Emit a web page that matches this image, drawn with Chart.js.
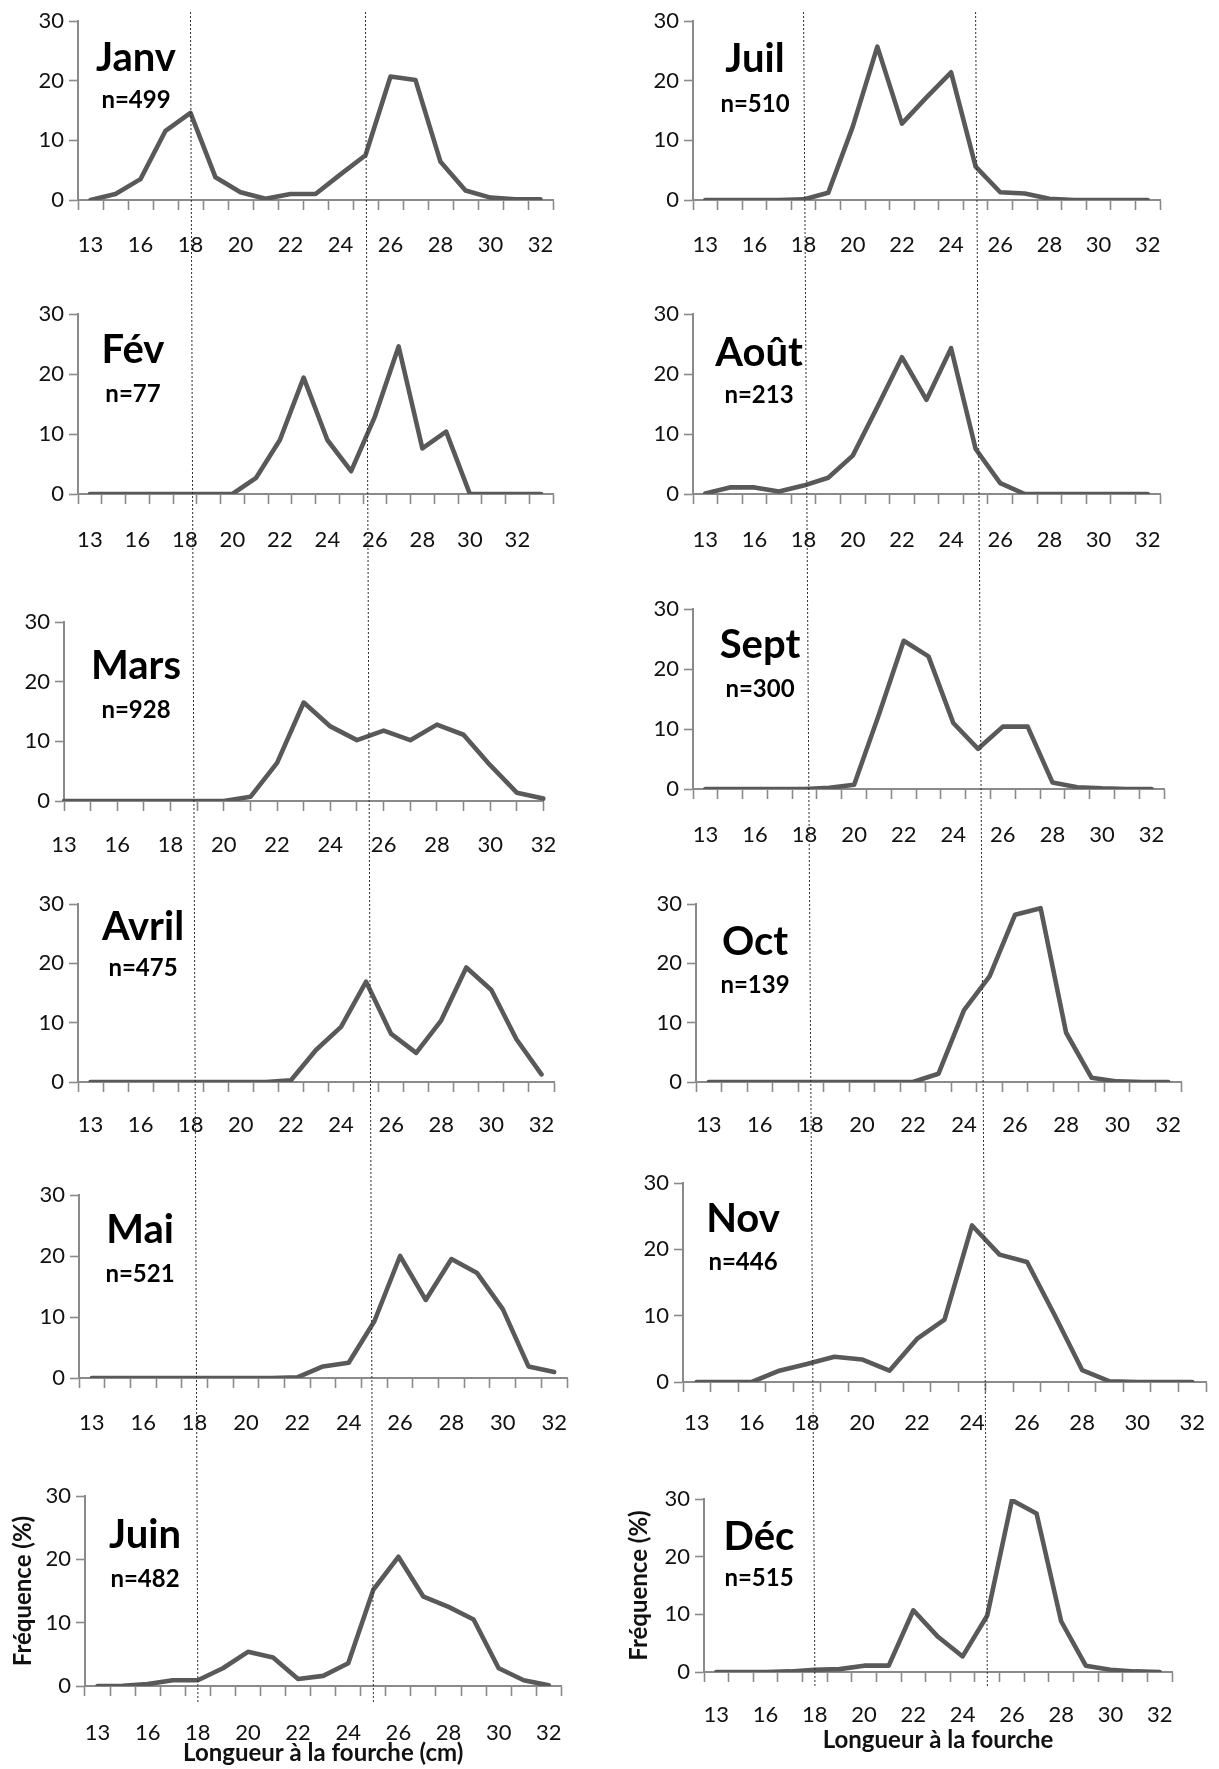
<!DOCTYPE html>
<html lang="fr">
<head>
<meta charset="utf-8">
<title>Longueur à la fourche par mois</title>
<script src="https://cdn.jsdelivr.net/npm/chart.js@4.4.1/dist/chart.umd.min.js"></script>
<style>
  html, body { margin: 0; padding: 0; background: #fff; }
  #page { position: relative; width: 1219px; height: 1769px; overflow: hidden; background: #fff; }
  #page canvas { position: absolute; }
  #guides { pointer-events: none; }
</style>
</head>
<body>
<div id="page"></div>
<script>
// Length classes (cm); the axis labels every other class, the first class gathers 13-14 cm
const lengthTicks = ['13', '', '16', '', '18', '', '20', '', '22', '', '24', '', '26', '', '28', '', '30', '', '32'];
// February's table carries one extra (unlabelled) class after 32 cm
const lengthTicksFeb = lengthTicks.concat(['']);

// Frequency (%) per length class
const freqJanv  = [0, 1.0, 3.5, 11.6, 14.6, 3.8, 1.3, 0.2, 1.0, 1.0, 4.3, 7.5, 20.7, 20.1, 6.4, 1.6, 0.4, 0.1, 0.1];
const freqFev   = [0, 0, 0, 0, 0, 0, 0, 2.7, 9.0, 19.4, 9.0, 3.8, 12.9, 24.6, 7.6, 10.4, 0, 0, 0, 0];
const freqMars  = [0, 0, 0, 0, 0, 0, 0, 0.7, 6.4, 16.5, 12.5, 10.2, 11.8, 10.2, 12.8, 11.1, 6.0, 1.4, 0.4];
const freqAvril = [0, 0, 0, 0, 0, 0, 0, 0, 0.3, 5.4, 9.3, 16.9, 8.1, 4.9, 10.4, 19.3, 15.5, 7.2, 1.3];
const freqMai   = [0, 0, 0, 0, 0, 0, 0, 0, 0.1, 1.9, 2.5, 9.3, 20.0, 12.8, 19.5, 17.2, 11.3, 1.9, 1.0];
const freqJuin  = [0, 0.05, 0.3, 0.9, 0.9, 2.8, 5.4, 4.5, 1.1, 1.6, 3.6, 15.2, 20.4, 14.1, 12.5, 10.5, 2.8, 0.9, 0.1];
const freqJuil  = [0, 0, 0, 0, 0.1, 1.2, 12.3, 25.7, 12.8, 17.2, 21.4, 5.6, 1.3, 1.1, 0.2, 0, 0, 0, 0];
const freqAout  = [0.1, 1.1, 1.1, 0.4, 1.4, 2.7, 6.4, 14.5, 22.8, 15.7, 24.3, 7.5, 1.8, 0, 0, 0, 0, 0, 0];
const freqSept  = [0, 0, 0, 0, 0, 0.2, 0.7, 12.4, 24.7, 22.1, 11.0, 6.7, 10.4, 10.4, 1.1, 0.3, 0.1, 0, 0];
const freqOct   = [0, 0, 0, 0, 0, 0, 0, 0, 0, 1.4, 12.1, 17.8, 28.2, 29.3, 8.3, 0.7, 0.1, 0, 0];
const freqNov   = [0, 0, 0, 1.7, 2.7, 3.8, 3.4, 1.7, 6.5, 9.4, 23.6, 19.2, 18.1, 10.1, 1.8, 0.1, 0, 0, 0];
const freqDec   = [0, 0, 0, 0.1, 0.4, 0.5, 1.1, 1.1, 10.7, 6.1, 2.7, 9.8, 29.8, 27.5, 8.8, 1.1, 0.4, 0.1, 0];

const monthNames  = ['Janv', 'Fév', 'Mars', 'Avril', 'Mai', 'Juin', 'Juil', 'Août', 'Sept', 'Oct', 'Nov', 'Déc'];
const sampleSizes = [499, 77, 928, 475, 521, 482, 510, 213, 300, 139, 446, 515];
const monthSeries = [freqJanv, freqFev, freqMars, freqAvril, freqMai, freqJuin,
                     freqJuil, freqAout, freqSept, freqOct, freqNov, freqDec];
const monthTicks  = monthNames.map((m, i) => i === 1 ? lengthTicksFeb : lengthTicks);

const yTicks = [0, 10, 20, 30];
const yTitleText = 'Fréquence (%)';
const xTitleLeft = 'Longueur à la fourche (cm)';
const xTitleRight = 'Longueur à la fourche';
const guideLengthsCm = [18, 25];

// Page layout: plot rectangle [left, top, right, bottom], tick-label centre line,
// and the month label anchor (centre x, title baseline, count baseline) inside the plot
const panelLayout = [
  { plot: [78, 21, 553, 200],    labelY: 245,  lab: [58, 50, 87] },
  { plot: [78, 314, 553, 494],   labelY: 540,  lab: [55, 49, 88] },
  { plot: [64, 622, 553, 801],   labelY: 845,  lab: [72, 57, 96], onTicks: true },
  { plot: [78, 904, 554, 1082],  labelY: 1125, lab: [65, 36, 72] },
  { plot: [79, 1195, 567, 1378], labelY: 1423, lab: [61, 48, 87] },
  { plot: [85, 1496, 562, 1686], labelY: 1733, lab: [60, 52, 91], yTitleGap: 62, xTitle: xTitleLeft, xTitleGap: 67 },
  { plot: [693, 21, 1160, 200],  labelY: 245,  lab: [62, 51, 91] },
  { plot: [693, 314, 1160, 494], labelY: 540,  lab: [66, 52, 89] },
  { plot: [693, 609, 1164, 789], labelY: 835,  lab: [67, 49, 88] },
  { plot: [696, 904, 1181, 1082], labelY: 1125, lab: [59, 51, 89] },
  { plot: [683, 1183, 1206, 1382], labelY: 1423, lab: [60, 49, 87] },
  { plot: [704, 1499, 1172, 1672], labelY: 1715, lab: [55, 51, 87], yTitleGap: 65, xTitle: xTitleRight, xTitleGap: 68 }
];

const FONT = 'Lato, "Open Sans", sans-serif';
const AXIS_GREY = '#8a8a8a';
const LINE_GREY = '#595959';
const TICK_SIZE = 22;
const TITLE_SIZE = 24;

Chart.defaults.font.family = FONT;
Chart.defaults.color = '#111';

// Month name and sample size written in the upper-left part of each plot
const monthLabelPlugin = {
  id: 'monthLabel',
  afterDraw(chart, args, opts) {
    const { ctx, chartArea } = chart;
    const cx = chartArea.left + opts.dx;
    ctx.save();
    ctx.fillStyle = '#000';
    ctx.textAlign = 'center';
    ctx.textBaseline = 'alphabetic';
    ctx.font = 'bold 40px ' + FONT;
    ctx.fillText(opts.name, cx, chartArea.top + opts.titleBase);
    ctx.font = 'bold 24px ' + FONT;
    ctx.fillText('n=' + opts.n, cx, chartArea.top + opts.countBase);
    ctx.restore();
  }
};

const page = document.getElementById('page');
const charts = [];

monthNames.forEach((name, i) => {
  const L = panelLayout[i];
  const [pl, pt, pr, pb] = L.plot;
  const hasYTitle = L.yTitleGap !== undefined;
  const hasXTitle = L.xTitle !== undefined;
  const yW = hasYTitle ? 86 : 70;     // width of the y-axis box
  const xH = hasXTitle ? 92 : 62;     // height of the x-axis box
  const padTop = 20, padRight = 24;
  const W = (pr - pl) + yW + padRight;
  const H = (pb - pt) + padTop + xH;

  const cv = document.createElement('canvas');
  cv.width = W; cv.height = H;
  cv.style.left = (pl - yW) + 'px';
  cv.style.top = (pt - padTop) + 'px';
  cv.style.width = W + 'px'; cv.style.height = H + 'px';
  page.appendChild(cv);

  const between = !L.onTicks;
  const xTickLen = 10;
  const tickLH = TICK_SIZE * 1.2;
  const xPad = (L.labelY - pb) - xTickLen - tickLH / 2;
  const titleLH = TITLE_SIZE * 1.2;

  const chart = new Chart(cv, {
    type: 'line',
    data: {
      labels: monthTicks[i],
      datasets: [{
        data: monthSeries[i],
        borderColor: LINE_GREY,
        borderWidth: 4.6,
        borderJoinStyle: 'round',
        borderCapStyle: 'round',
        pointRadius: 0,
        tension: 0,
        fill: false
      }]
    },
    options: {
      responsive: false,
      animation: false,
      events: [],
      layout: { padding: { top: padTop, right: padRight, left: 0, bottom: 0 } },
      plugins: {
        legend: { display: false },
        tooltip: { enabled: false },
        monthLabel: { name: name, n: sampleSizes[i], dx: L.lab[0], titleBase: L.lab[1], countBase: L.lab[2] }
      },
      scales: {
        x: {
          type: 'category',
          offset: between,
          grid: { offset: between, drawOnChartArea: false, drawTicks: true, tickLength: xTickLen, tickWidth: 1.6, tickColor: AXIS_GREY },
          border: { display: true, color: AXIS_GREY, width: 2 },
          ticks: { autoSkip: false, maxRotation: 0, minRotation: 0, padding: xPad, color: '#111', font: { size: TICK_SIZE } },
          title: hasXTitle ? {
            display: true, text: L.xTitle, color: '#111',
            font: { size: TITLE_SIZE, weight: 'bold' },
            padding: { top: 0, bottom: xH - L.xTitleGap - titleLH / 2 }
          } : { display: false },
          afterFit: s => { s.height = xH; }
        },
        y: {
          type: 'linear',
          min: yTicks[0],
          max: yTicks[yTicks.length - 1],
          afterBuildTicks: s => { s.ticks = yTicks.map(v => ({ value: v })); },
          grid: { drawOnChartArea: false, drawTicks: true, tickLength: 9, tickWidth: 1.6, tickColor: AXIS_GREY },
          border: { display: true, color: AXIS_GREY, width: 2 },
          ticks: { padding: 5, color: '#111', font: { size: TICK_SIZE } },
          title: hasYTitle ? {
            display: true, text: yTitleText, color: '#111',
            font: { size: TITLE_SIZE, weight: 'bold' },
            padding: { top: yW - L.yTitleGap - titleLH / 2, bottom: 0 }
          } : { display: false },
          afterFit: s => { s.width = yW; }
        }
      }
    },
    plugins: [monthLabelPlugin]
  });
  charts.push({ chart, left: pl - yW, top: pt - padTop });
});

// Dotted guide lines at 18 and 25 cm, running down each column of panels:
// anchored on the top and bottom panels' length scales, then extended a little past them
function guideSegment(topP, botP, cm) {
  const idx = cm - 14;
  const xT = topP.left + topP.chart.scales.x.getPixelForValue(idx);
  const yT = topP.top + topP.chart.chartArea.top;
  const xB = botP.left + botP.chart.scales.x.getPixelForValue(idx);
  const yB = botP.top + botP.chart.chartArea.bottom;
  const at = y => xT + (xB - xT) * (y - yT) / (yB - yT);
  const y1 = yT - 9, y2 = yB + 16;
  return [{ x: at(y1), y: y1 }, { x: at(y2), y: y2 }];
}
const columns = [[charts[0], charts[5]], [charts[6], charts[11]]];
const guideData = [];
columns.forEach(([t, b]) => guideLengthsCm.forEach(cm => guideData.push(guideSegment(t, b, cm))));

const gc = document.createElement('canvas');
gc.id = 'guides';
gc.width = 1219; gc.height = 1769;
gc.style.left = '0px'; gc.style.top = '0px';
gc.style.width = '1219px'; gc.style.height = '1769px';
page.appendChild(gc);

new Chart(gc, {
  type: 'scatter',
  data: {
    datasets: guideData.map(seg => ({
      data: seg, showLine: true, borderColor: '#2a2a2a', borderWidth: 1,
      borderDash: [2, 2], pointRadius: 0, fill: false
    }))
  },
  options: {
    responsive: false,
    animation: false,
    events: [],
    layout: { padding: 0 },
    plugins: { legend: { display: false }, tooltip: { enabled: false } },
    scales: {
      x: { type: 'linear', min: 0, max: 1219, display: false },
      y: { type: 'linear', min: 0, max: 1769, reverse: true, display: false }
    }
  }
});
</script>
</body>
</html>
